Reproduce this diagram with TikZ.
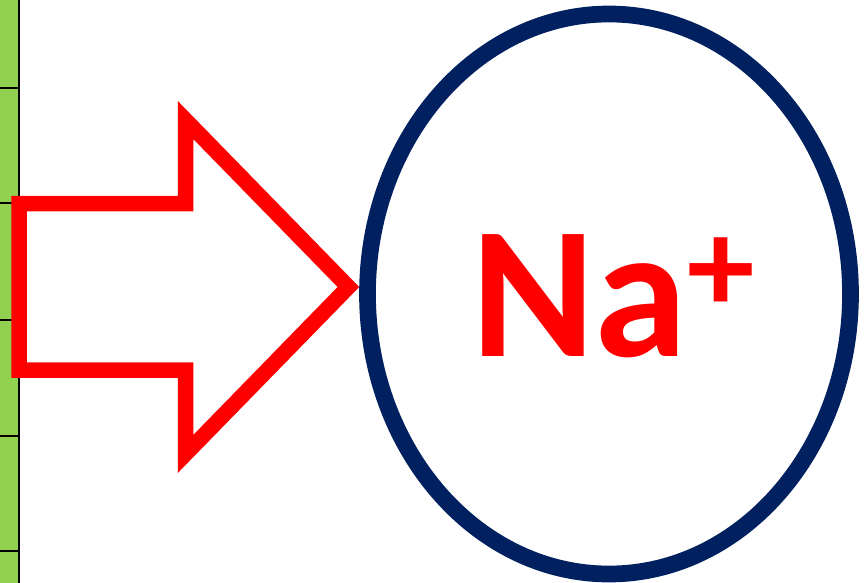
\documentclass[tikz,border=0pt]{standalone}
\usepackage{fontspec}
\usepackage{tikz}
\usepackage{xcolor}
\usetikzlibrary{
  positioning, shapes.geometric, calc,
}
\newfontfamily\ionfont{Carlito}
\definecolor{cStrip}   {HTML}{92D050}
\definecolor{cIonRed}  {HTML}{FF0000}
\definecolor{cIonRing} {HTML}{002060}

\begin{document}
\begin{tikzpicture}[x=1pt, y=-1pt]
        \useasboundingbox (0,0) rectangle (867,583);
        % green strip on the left edge
        \fill[cStrip] (0,0) rectangle (19,583);
        \draw[black, line width=2.2pt] (19.2,0) -- (19.2,583);
        \foreach \yy in {88,203,320,436,551} {
          \draw[black, line width=2.2pt] (0,\yy) -- (20,\yy);
        }
        % ion ring
        \node[ellipse, draw=cIonRing, line width=16.7pt, inner sep=0pt,
              minimum width=483, minimum height=560] (ring) at (609,294) {};
        \node[font=\ionfont\bfseries\fontsize{188}{188}\selectfont, text=cIonRed, inner sep=0pt]
              (ion) at (613,296.5)
              {Na\raisebox{44pt}{\fontsize{135}{135}\selectfont +}};
        % hollow arrow pointing at the ring
        \draw[draw=cIonRed, fill=white, line width=15.5pt, miter limit=10]
              (19,203.5) -- (185.5,203.5) -- (185.5,120) -- (348.4,287)
              -- (185.5,454) -- (185.5,370) -- (19,370) -- cycle;
      \end{tikzpicture}
\end{document}
